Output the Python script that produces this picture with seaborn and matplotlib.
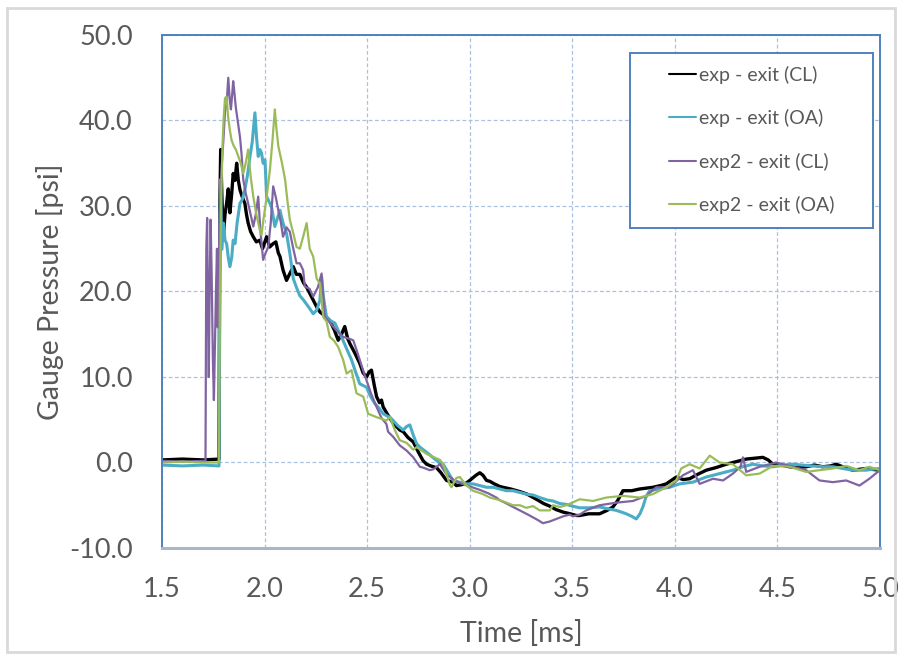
import pandas as pd
import matplotlib as mpl
import matplotlib.pyplot as plt
from matplotlib.patches import Rectangle
import seaborn as sns

# 圧力波形 (値は元グラフから読み取り)
CL1_T = [1.50, 1.60, 1.70, 1.778, 1.782, 1.786, 1.792, 1.799, 1.807, 1.815, 1.823, 1.831, 1.84, 1.847,
         1.856, 1.864, 1.872, 1.88, 1.892, 1.904, 1.912, 1.92, 1.932, 1.945, 1.96, 1.977, 1.99, 2.01,
         2.025, 2.042, 2.055, 2.067, 2.075, 2.09, 2.107, 2.115, 2.14, 2.155, 2.172, 2.19, 2.205, 2.22,
         2.237, 2.254, 2.27, 2.286, 2.302, 2.318, 2.34, 2.359, 2.375, 2.391, 2.405, 2.416, 2.44, 2.464,
         2.48, 2.497, 2.51, 2.521, 2.535, 2.546, 2.56, 2.57, 2.578, 2.6, 2.627, 2.659, 2.676, 2.70,
         2.725, 2.75, 2.773, 2.79, 2.81, 2.838, 2.86, 2.887, 2.919, 2.935, 2.96, 2.984, 3.0, 3.03,
         3.049, 3.065, 3.082, 3.098, 3.12, 3.146, 3.162, 3.2, 3.244, 3.28, 3.325, 3.36, 3.39, 3.42,
         3.455, 3.49, 3.52, 3.536, 3.58, 3.633, 3.67, 3.698, 3.72, 3.747, 3.79, 3.828, 3.86, 3.893,
         3.93, 3.958, 4.007, 4.04, 4.072, 4.11, 4.153, 4.2, 4.251, 4.3, 4.348, 4.39, 4.429, 4.455,
         4.478, 4.52, 4.559, 4.6, 4.64, 4.68, 4.721, 4.76, 4.786, 4.83, 4.867, 4.9, 4.932, 4.96, 5.0]
CL1_P = [0.3, 0.4, 0.3, 0.4, 30.0, 36.6, 31.0, 26.4, 29.0, 30.3, 32.0, 29.2, 31.5, 33.8,
         33.0, 35.0, 33.0, 31.9, 31.0, 30.3, 29.0, 28.0, 27.0, 26.4, 25.8, 26.0, 25.0, 26.4,
         25.2, 25.6, 25.8, 24.5, 24.1, 22.5, 21.3, 21.7, 22.9, 22.0, 22.0, 21.0, 20.5, 19.8,
         19.0, 18.2, 17.6, 17.3, 17.0, 16.6, 15.5, 14.3, 15.0, 15.9, 14.5, 13.9, 12.8, 11.6,
         10.5, 10.0, 10.6, 10.8, 9.0, 7.7, 7.0, 7.3, 6.5, 5.6, 4.6, 3.8, 3.6, 2.9,
         2.4, 1.2, 0.2, -0.2, -0.4, -0.6, -1.2, -2.1, -2.3, -2.7, -2.6, -2.4, -2.1, -1.5,
         -1.2, -1.5, -2.1, -2.2, -2.5, -2.8, -2.9, -3.1, -3.4, -3.7, -4.3, -4.8, -5.1, -5.5,
         -5.8, -6.0, -6.2, -6.2, -6.0, -6.0, -5.6, -5.2, -4.5, -3.3, -3.3, -3.1, -3.0, -2.9,
         -2.7, -2.5, -1.7, -2.0, -1.9, -1.4, -0.9, -0.6, -0.2, 0.1, 0.4, 0.5, 0.6, 0.3,
         -0.2, -0.3, -0.5, -0.6, -0.5, -0.3, -0.5, -0.4, -0.2, -0.6, -0.9, -0.8, -0.7, -0.8, -0.9]

OA1_T = [1.50, 1.60, 1.70, 1.778, 1.782, 1.786, 1.791, 1.80, 1.807, 1.815, 1.823, 1.831, 1.84, 1.847,
         1.856, 1.866, 1.88, 1.892, 1.904, 1.916, 1.929, 1.94, 1.953, 1.961, 1.969, 1.977, 1.985, 1.993,
         2.002, 2.01, 2.022, 2.034, 2.05, 2.062, 2.075, 2.09, 2.107, 2.123, 2.14, 2.155, 2.172, 2.19,
         2.205, 2.22, 2.237, 2.254, 2.27, 2.278, 2.286, 2.302, 2.32, 2.343, 2.36, 2.375, 2.40, 2.424,
         2.445, 2.464, 2.48, 2.497, 2.515, 2.537, 2.56, 2.578, 2.60, 2.611, 2.627, 2.65, 2.676, 2.692,
         2.708, 2.725, 2.741, 2.757, 2.79, 2.82, 2.855, 2.871, 2.903, 2.919, 2.95, 2.984, 3.016, 3.05,
         3.082, 3.114, 3.146, 3.179, 3.211, 3.244, 3.276, 3.309, 3.341, 3.38, 3.406, 3.439, 3.471, 3.5,
         3.536, 3.58, 3.633, 3.67, 3.714, 3.74, 3.763, 3.79, 3.812, 3.83, 3.844, 3.86, 3.877, 3.925,
         3.974, 4.023, 4.088, 4.153, 4.218, 4.283, 4.33, 4.381, 4.43, 4.478, 4.53, 4.575, 4.62, 4.673,
         4.72, 4.77, 4.82, 4.867, 4.9, 4.932, 4.96, 5.0]
OA1_P = [-0.3, -0.4, -0.3, -0.4, 28.0, 33.1, 24.9, 28.0, 26.0, 25.6, 24.0, 22.9, 24.0, 26.0,
         25.6, 28.0, 30.3, 30.8, 31.9, 33.5, 35.8, 37.5, 40.9, 38.0, 35.8, 36.6, 36.2, 35.0,
         35.4, 31.1, 30.5, 29.9, 27.6, 28.5, 29.5, 28.0, 26.8, 24.5, 21.5, 20.5, 19.5, 19.0,
         18.5, 18.0, 17.4, 17.8, 19.0, 21.7, 19.5, 17.0, 16.6, 16.3, 15.4, 14.7, 13.3, 12.0,
         10.5, 9.2, 9.0, 8.8, 7.8, 6.9, 6.3, 5.7, 5.4, 5.3, 4.9, 4.3, 3.8, 4.2,
         4.4, 3.2, 2.2, 1.8, 1.2, 0.6, -0.1, -0.2, -1.5, -2.1, -2.3, -2.5, -2.5, -2.7,
         -2.9, -2.9, -3.1, -3.3, -3.3, -3.5, -3.7, -3.8, -4.1, -4.4, -4.5, -4.8, -4.9, -5.1,
         -5.3, -5.3, -5.2, -5.4, -5.6, -5.8, -6.0, -6.3, -6.6, -6.0, -5.2, -4.0, -3.3, -3.1,
         -2.9, -2.5, -2.3, -1.7, -1.3, -0.9, -0.5, -0.2, -0.4, -0.5, -0.3, -0.2, -0.3, -0.4,
         -0.5, -0.5, -0.7, -0.9, -0.9, -0.9, -0.8, -0.7]

CL2_T = [1.50, 1.60, 1.70, 1.712, 1.716, 1.72, 1.724, 1.728, 1.732, 1.737, 1.742, 1.748, 1.753, 1.758,
         1.763, 1.768, 1.772, 1.776, 1.78, 1.786, 1.792, 1.80, 1.807, 1.815, 1.823, 1.83, 1.836, 1.842,
         1.847, 1.852, 1.86, 1.87, 1.88, 1.888, 1.896, 1.908, 1.92, 1.932, 1.945, 1.957, 1.969, 1.98,
         1.993, 2.005, 2.018, 2.03, 2.042, 2.055, 2.067, 2.08, 2.09, 2.107, 2.123, 2.14, 2.156, 2.172,
         2.188, 2.196, 2.22, 2.237, 2.26, 2.278, 2.294, 2.31, 2.334, 2.36, 2.383, 2.41, 2.432, 2.448,
         2.464, 2.48, 2.497, 2.52, 2.546, 2.57, 2.594, 2.602, 2.627, 2.659, 2.692, 2.725, 2.757, 2.773,
         2.806, 2.822, 2.855, 2.887, 2.92, 2.952, 3.0, 3.049, 3.09, 3.13, 3.146, 3.18, 3.211, 3.244,
         3.292, 3.33, 3.357, 3.39, 3.422, 3.455, 3.487, 3.503, 3.536, 3.568, 3.633, 3.714, 3.796, 3.861,
         3.909, 3.974, 4.039, 4.088, 4.121, 4.186, 4.235, 4.283, 4.32, 4.332, 4.348, 4.413, 4.494, 4.575,
         4.64, 4.705, 4.77, 4.835, 4.9, 4.948, 4.989, 5.0]
CL2_P = [0.2, 0.1, 0.2, 0.2, 25.0, 28.6, 18.0, 10.0, 20.0, 28.4, 22.0, 12.0, 7.3, 14.0,
         20.0, 25.0, 15.8, 20.0, 28.0, 32.0, 35.0, 38.0, 41.0, 42.0, 45.0, 42.5, 41.3, 43.0,
         44.6, 43.5, 41.5, 39.8, 38.1, 36.0, 33.1, 31.5, 30.3, 29.0, 27.6, 29.0, 31.1, 27.0,
         23.7, 24.5, 25.2, 28.0, 32.3, 31.0, 29.5, 28.0, 26.4, 27.5, 27.0, 25.0, 23.3, 23.3,
         22.5, 20.6, 20.3, 19.4, 20.5, 22.1, 17.0, 16.6, 15.9, 15.2, 14.7, 14.5, 14.3, 13.2,
         12.0, 10.8, 9.6, 8.0, 6.5, 5.2, 4.5, 3.6, 3.0, 2.0, 1.4, 0.6, -0.5, -0.6,
         -0.9, -0.8, -0.2, -1.4, -2.0, -2.4, -2.8, -3.2, -3.6, -4.1, -4.4, -4.8, -5.2, -5.6,
         -6.2, -6.7, -7.1, -6.9, -6.6, -6.3, -6.1, -6.3, -6.1, -5.6, -5.0, -4.7, -4.5, -3.9,
         -2.9, -2.9, -1.5, -0.9, -2.5, -1.9, -2.1, -1.3, -0.5, 0.6, -1.1, -0.5, 0.0, -0.5,
         -0.9, -2.1, -2.3, -2.1, -2.7, -1.9, -1.1, -1.0]

OA2_T = [1.50, 1.60, 1.70, 1.778, 1.782, 1.788, 1.795, 1.80, 1.807, 1.815, 1.822, 1.83, 1.839, 1.85,
         1.86, 1.872, 1.884, 1.896, 1.908, 1.92, 1.932, 1.945, 1.96, 1.977, 1.985, 1.995, 2.01, 2.026,
         2.038, 2.05, 2.058, 2.067, 2.085, 2.1, 2.112, 2.123, 2.14, 2.156, 2.172, 2.188, 2.205, 2.22,
         2.237, 2.254, 2.27, 2.286, 2.302, 2.318, 2.34, 2.359, 2.383, 2.4, 2.424, 2.448, 2.481, 2.505,
         2.546, 2.594, 2.611, 2.635, 2.659, 2.692, 2.725, 2.741, 2.79, 2.855, 2.871, 2.903, 2.911, 2.935,
         2.952, 2.98, 3.016, 3.065, 3.098, 3.146, 3.18, 3.211, 3.244, 3.276, 3.309, 3.341, 3.39, 3.406,
         3.44, 3.471, 3.536, 3.601, 3.666, 3.747, 3.828, 3.893, 3.958, 4.007, 4.031, 4.072, 4.121, 4.17,
         4.218, 4.283, 4.348, 4.413, 4.478, 4.559, 4.64, 4.705, 4.77, 4.835, 4.9, 4.948, 5.0]
OA2_P = [0.0, 0.1, 0.0, 0.0, 20.0, 30.0, 37.0, 40.0, 42.6, 42.8, 40.5, 39.0, 37.7, 37.0,
         36.6, 35.8, 35.0, 33.8, 35.0, 36.6, 33.5, 31.1, 29.0, 27.2, 26.6, 28.5, 31.0, 34.2,
         37.5, 41.3, 39.0, 37.0, 35.0, 33.1, 30.5, 28.4, 26.8, 25.2, 25.0, 26.4, 28.0, 25.0,
         24.1, 21.5, 20.9, 17.0, 16.5, 14.7, 14.2, 13.5, 12.0, 10.4, 10.8, 8.1, 7.7, 5.7,
         5.3, 4.9, 5.3, 3.8, 2.6, 2.3, 1.5, 1.8, 1.0, 0.3, -0.2, -2.6, -2.9, -1.8,
         -1.7, -2.6, -3.3, -3.7, -4.1, -4.4, -4.7, -5.0, -5.0, -5.3, -5.1, -5.6, -5.6, -5.0,
         -5.2, -5.0, -4.3, -4.5, -4.1, -3.9, -4.1, -3.7, -2.9, -2.1, -0.7, -0.2, -0.7, 0.8,
         0.0, -0.2, -1.5, -1.3, -0.4, -0.5, -1.1, -0.9, -0.7, -0.4, -0.9, -0.5, -0.9]

LABELS = ['exp - exit (CL)', 'exp - exit (OA)', 'exp2 - exit (CL)', 'exp2 - exit (OA)']
COLORS = ['#000000', '#4BACC6', '#8064A2', '#9BBB59']
WIDTHS = [2.4, 2.2, 1.6, 1.6]

TEXT_COLOR = '#595959'
EDGE_BLUE = '#4F81BD'

sns.set_style('white')
mpl.rcParams['font.family'] = ['Lato', 'DejaVu Sans']
mpl.rcParams['axes.unicode_minus'] = False

frames = []
for lab, t, p in zip(LABELS, [CL1_T, OA1_T, CL2_T, OA2_T], [CL1_P, OA1_P, CL2_P, OA2_P]):
    frames.append(pd.DataFrame({'Time': t, 'Pressure': p, 'series': lab}))
data = pd.concat(frames, ignore_index=True)

fig = plt.figure(figsize=(9.02, 6.60), dpi=100)
ax = fig.add_axes([0.1796, 0.1697, 0.796, 0.7773])

for lab, col, lw in zip(LABELS, COLORS, WIDTHS):
    sub = data[data['series'] == lab]
    sns.lineplot(data=sub, x='Time', y='Pressure', ax=ax, color=col, linewidth=lw,
                 sort=False, estimator=None, label=lab)

ax.set_xlim(1.5, 5.0)
ax.set_ylim(-10, 50)
ax.set_xticks([1.5, 2.0, 2.5, 3.0, 3.5, 4.0, 4.5, 5.0])
ax.set_yticks([-10, 0, 10, 20, 30, 40, 50])
ax.xaxis.set_major_formatter(mpl.ticker.FormatStrFormatter('%.1f'))
ax.yaxis.set_major_formatter(mpl.ticker.FormatStrFormatter('%.1f'))
ax.tick_params(axis='both', length=0, labelsize=19.5, labelcolor=TEXT_COLOR)
ax.tick_params(axis='x', pad=21)
ax.tick_params(axis='y', pad=21)
ax.grid(True, color='#A9C0E0', linestyle=(0, (3, 2)), linewidth=0.9)
ax.set_axisbelow(True)

ax.set_xlabel('Time [ms]', fontsize=20.5, color=TEXT_COLOR, labelpad=13)
ax.set_ylabel('Gauge Pressure [psi]', fontsize=20.5, color=TEXT_COLOR, labelpad=4)

for side in ['left', 'top', 'right']:
    ax.spines[side].set_color(EDGE_BLUE)
    ax.spines[side].set_linewidth(1.4)
ax.spines['bottom'].set_color('#A8B6C8')
ax.spines['bottom'].set_linewidth(2.2)

# 凡例の枠
ax.add_patch(Rectangle((0.652, 0.624), 0.338, 0.341, transform=ax.transAxes,
                       facecolor='white', edgecolor=EDGE_BLUE, linewidth=1.4, zorder=5))
leg = ax.legend(loc='upper left', bbox_to_anchor=(0.696, 0.955), frameon=False,
                fontsize=14, handlelength=1.35, handletextpad=0.15, labelspacing=1.3,
                borderaxespad=0)
leg.set_zorder(6)
for txt in leg.get_texts():
    txt.set_color(TEXT_COLOR)
for h in leg.get_lines():
    h.set_linewidth(1.5)

# グラフ全体の枠
fig.patches.append(Rectangle((0.008, 0.012), 0.984, 0.976, transform=fig.transFigure,
                             fill=False, edgecolor='#D9D9D9', linewidth=2))

fig.savefig('out.png', dpi=100)
